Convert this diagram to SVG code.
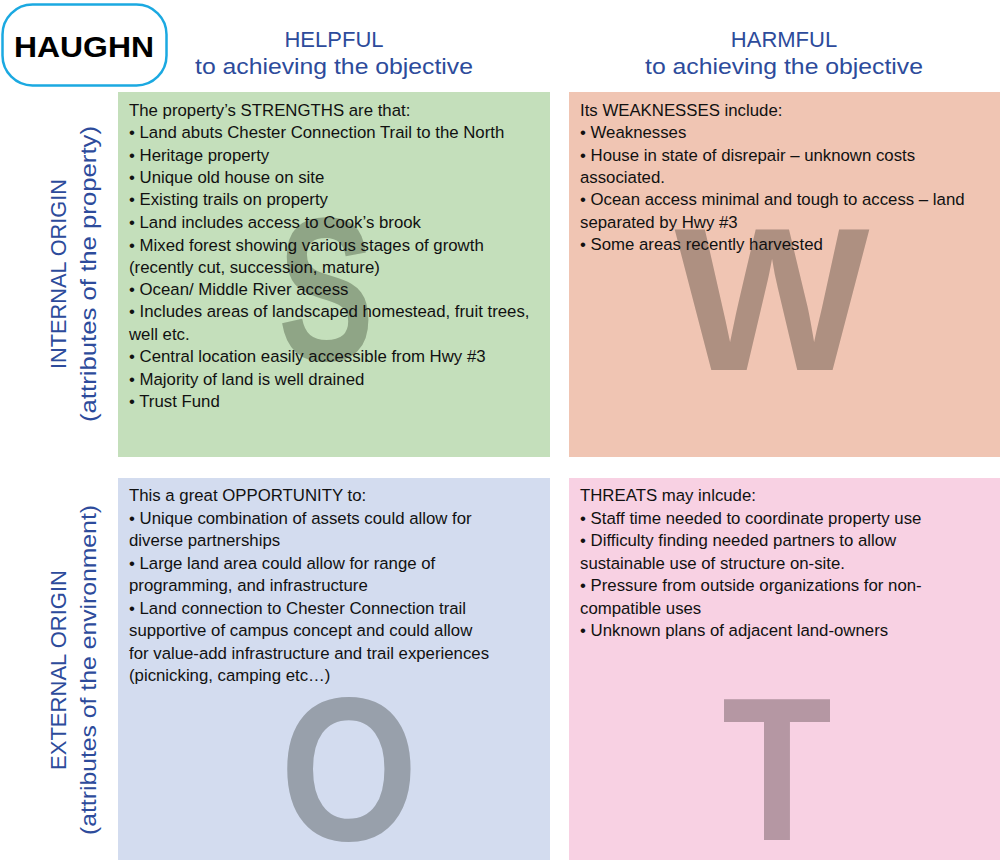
<svg xmlns="http://www.w3.org/2000/svg" width="1002" height="863" viewBox="0 0 1002 863">
<style>
.hdr{font-family:"Liberation Sans",Arial,sans-serif;font-size:22px;fill:#2d4b9b;text-anchor:middle}
.side{font-family:"Liberation Sans Narrow","Liberation Sans",Arial,sans-serif;font-size:22px;fill:#2d4b9b;text-anchor:middle}
.body{font-family:"Liberation Sans",Arial,sans-serif;font-size:16.8px;fill:#111}
.big{font-family:"Liberation Sans",Arial,sans-serif;font-weight:bold;font-size:205px;text-anchor:middle}
</style>
<rect width="1002" height="863" fill="#ffffff"/>
<g id="title">
<rect x="2.5" y="4.5" width="164" height="81" rx="30" ry="30" fill="#ffffff" stroke="#1ba9e1" stroke-width="2.5"/>
<text x="84" y="57" font-family="Liberation Sans,Arial,sans-serif" font-weight="bold" font-size="30" text-anchor="middle" fill="#000" textLength="140" lengthAdjust="spacingAndGlyphs">HAUGHN</text>
</g>
<g id="header-helpful">
<text class="hdr" x="334" y="47">HELPFUL</text>
<text class="hdr" x="334" y="74" textLength="278" lengthAdjust="spacingAndGlyphs">to achieving the objective</text>
</g>
<g id="header-harmful">
<text class="hdr" x="784" y="47">HARMFUL</text>
<text class="hdr" x="784" y="74" textLength="278" lengthAdjust="spacingAndGlyphs">to achieving the objective</text>
</g>
<g id="side-internal">
<text class="side" transform="translate(66,274) rotate(-90)" textLength="190" lengthAdjust="spacingAndGlyphs">INTERNAL ORIGIN</text>
<text class="side" transform="translate(96,274) rotate(-90)" textLength="296" lengthAdjust="spacingAndGlyphs">(attributes of the property)</text>
</g>
<g id="side-external">
<text class="side" transform="translate(66,670) rotate(-90)" textLength="200" lengthAdjust="spacingAndGlyphs">EXTERNAL ORIGIN</text>
<text class="side" transform="translate(96,670) rotate(-90)" textLength="330" lengthAdjust="spacingAndGlyphs">(attributes of the environment)</text>
</g>
<g id="strengths">
<rect x="118" y="92" width="432" height="365" fill="#c4dfbb"/>
<text class="big" x="326" y="360" fill="#8fa586" textLength="96" lengthAdjust="spacingAndGlyphs">S</text>
<text class="body" x="129" y="116">The property’s STRENGTHS are that:</text>
<text class="body" x="129" y="138">• Land abuts Chester Connection Trail to the North</text>
<text class="body" x="129" y="161">• Heritage property</text>
<text class="body" x="129" y="183">• Unique old house on site</text>
<text class="body" x="129" y="205">• Existing trails on property</text>
<text class="body" x="129" y="228">• Land includes access to Cook’s brook</text>
<text class="body" x="129" y="251">• Mixed forest showing various stages of growth</text>
<text class="body" x="129" y="273">(recently cut, succession, mature)</text>
<text class="body" x="129" y="295">• Ocean/ Middle River access</text>
<text class="body" x="129" y="317">• Includes areas of landscaped homestead, fruit trees,</text>
<text class="body" x="129" y="340">well etc.</text>
<text class="body" x="129" y="362">• Central location easily accessible from Hwy #3</text>
<text class="body" x="129" y="385">• Majority of land is well drained</text>
<text class="body" x="129" y="407">• Trust Fund</text>
</g>
<g id="weaknesses">
<rect x="569" y="92" width="431" height="365" fill="#f0c5b3"/>
<text class="big" x="772" y="370" fill="#ae9081" textLength="195" lengthAdjust="spacingAndGlyphs">W</text>
<text class="body" x="580" y="116">Its WEAKNESSES include:</text>
<text class="body" x="580" y="138">• Weaknesses</text>
<text class="body" x="580" y="161">• House in state of disrepair – unknown costs</text>
<text class="body" x="580" y="183">associated.</text>
<text class="body" x="580" y="205">• Ocean access minimal and tough to access – land</text>
<text class="body" x="580" y="228">separated by Hwy #3</text>
<text class="body" x="580" y="250">• Some areas recently harvested</text>
</g>
<g id="opportunities">
<rect x="118" y="478" width="432" height="382" fill="#d3dcef"/>
<text class="big" x="349" y="840" fill="#98a0ab" textLength="138" lengthAdjust="spacingAndGlyphs">O</text>
<text class="body" x="129" y="501">This a great OPPORTUNITY to:</text>
<text class="body" x="129" y="524">• Unique combination of assets could allow for</text>
<text class="body" x="129" y="546">diverse partnerships</text>
<text class="body" x="129" y="569">• Large land area could allow for range of</text>
<text class="body" x="129" y="591">programming, and infrastructure</text>
<text class="body" x="129" y="614">• Land connection to Chester Connection trail</text>
<text class="body" x="129" y="636">supportive of campus concept and could allow</text>
<text class="body" x="129" y="659">for value-add infrastructure and trail experiences</text>
<text class="body" x="129" y="681">(picnicking, camping etc…)</text>
</g>
<g id="threats">
<rect x="569" y="478" width="431" height="382" fill="#f8d1e3"/>
<text class="big" x="777" y="840" fill="#b597a3" textLength="110" lengthAdjust="spacingAndGlyphs">T</text>
<text class="body" x="580" y="501">THREATS may inlcude:</text>
<text class="body" x="580" y="524">• Staff time needed to coordinate property use</text>
<text class="body" x="580" y="546">• Difficulty finding needed partners to allow</text>
<text class="body" x="580" y="569">sustainable use of structure on-site.</text>
<text class="body" x="580" y="591">• Pressure from outside organizations for non-</text>
<text class="body" x="580" y="614">compatible uses</text>
<text class="body" x="580" y="636">• Unknown plans of adjacent land-owners</text>
</g>
<g id="connectors"/>
</svg>
